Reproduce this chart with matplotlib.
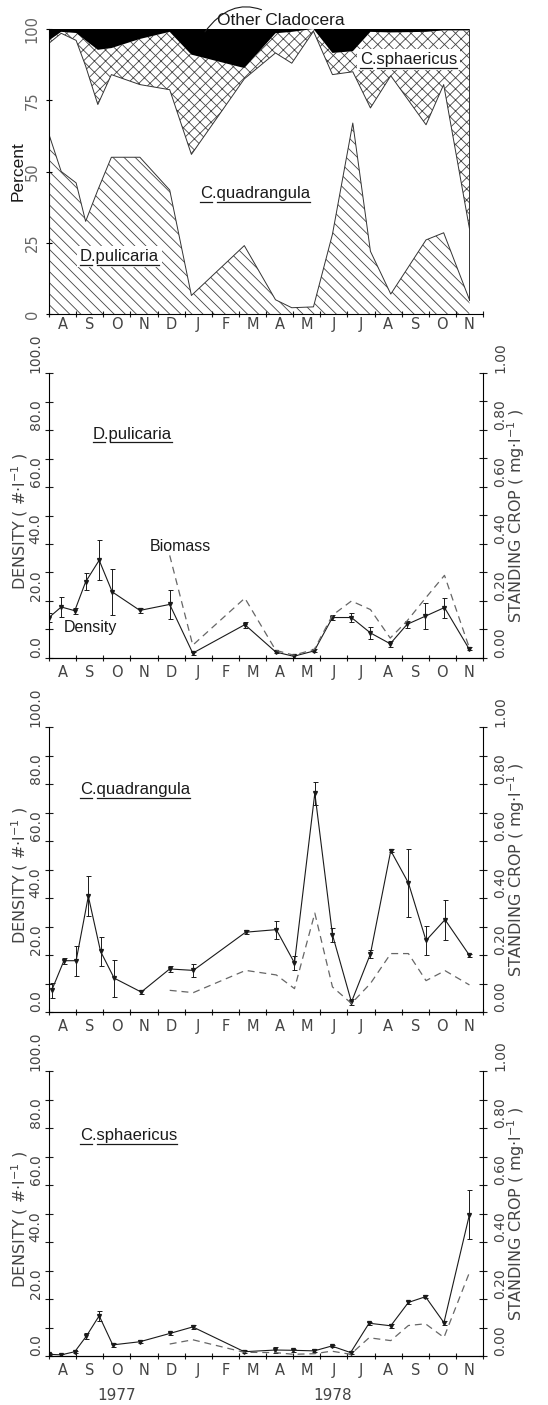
import numpy as np
import matplotlib
matplotlib.use('Agg')
import matplotlib.pyplot as plt
from matplotlib import font_manager
from matplotlib.lines import Line2D

# fonts: plotter-like narrow face for axes, Helvetica-like for the labels
names = {f.name for f in font_manager.fontManager.ttflist}
tick_font = 'Liberation Sans Narrow' if 'Liberation Sans Narrow' in names else 'DejaVu Sans'
label_font = 'Liberation Sans' if 'Liberation Sans' in names else 'DejaVu Sans'
plt.rcParams['font.family'] = [label_font, 'DejaVu Sans']
plt.rcParams['hatch.linewidth'] = 0.6
plt.rcParams['lines.scale_dashes'] = False

# months from Aug 1977 to Nov 1978 (x = months since 1 Aug 1977)
months = ['A', 'S', 'O', 'N', 'D', 'J', 'F', 'M', 'A', 'M', 'J', 'J', 'A', 'S', 'O', 'N']

# percent composition
pct_dates = [0.0, 0.45, 1.0, 1.35, 1.8, 2.3, 3.35, 4.45, 5.25, 7.2, 8.35, 8.95, 9.75,
             10.45, 11.2, 11.85, 12.6, 13.9, 14.55, 15.5]
pct_pulicaria = [63, 50, 46, 32.5, 43.5, 55, 55, 43.5, 6.5, 24, 5, 2.2, 2.5,
                 28, 67, 22, 7, 26, 28.5, 5]
pct_quadrangula = [32, 48.5, 50, 54.5, 30, 29, 25.5, 35.2, 49.5, 58.5, 86.6, 85.8, 96.7,
                   56, 18, 50.3, 76.6, 40.4, 52, 25]
pct_sphaericus = [1, 0.5, 2.6, 9, 19.2, 9.3, 16, 20.3, 35, 3.8, 6.9, 11, 0.8,
                  7.6, 7.2, 26.7, 15.2, 32.6, 19, 69.5]
pct_other = [4, 1, 1.4, 4, 7.3, 6.7, 3.5, 1, 9, 13.7, 1.5, 1, 0,
             8.4, 7.8, 1, 1.2, 1, 0.5, 0.5]

# D. pulicaria
pul_dates = [0.0, 0.45, 0.95, 1.35, 1.85, 2.33, 3.35, 4.45, 5.3, 7.22, 8.36, 9.02, 9.78,
             10.45, 11.15, 11.85, 12.58, 13.2, 13.88, 14.58, 15.48]
pul_density = [14.2, 17.9, 16.6, 26.7, 34.3, 23.2, 16.7, 18.8, 1.7, 11.7, 2.1, 0.6, 2.5,
               14.2, 14.2, 8.8, 5.0, 11.8, 14.7, 17.7, 3.3]
pul_err = [1.5, 3.5, 1.0, 3.0, 7.0, 8.0, 1.0, 5.0, 0.5, 1.0, 0.5, 0.5, 0.5,
           0.8, 1.5, 2.0, 1.0, 1.2, 4.7, 3.5, 0.5]
pul_bio_dates = [4.45, 5.3, 7.22, 8.36, 9.02, 9.78, 10.45, 11.15, 11.85, 12.58, 13.2,
                 13.88, 14.58, 15.48]
pul_biomass = [0.36, 0.045, 0.21, 0.027, 0.01, 0.03, 0.15, 0.20, 0.17, 0.07, 0.13,
               0.21, 0.29, 0.04]

# C. quadrangula
quad_dates = [0.1, 0.55, 1.0, 1.45, 1.9, 2.4, 3.4, 4.45, 5.32, 7.25, 8.38, 9.05, 9.8,
              10.45, 11.15, 11.85, 12.6, 13.25, 13.9, 14.6, 15.5]
quad_density = [7.6, 18.0, 18.0, 40.6, 21.3, 11.9, 7.0, 15.1, 14.6, 28.0, 28.9, 17.2, 76.8,
                27.1, 3.5, 20.4, 56.6, 45.3, 25.1, 32.4, 19.9]
quad_err = [2.6, 1.0, 5.3, 7.0, 5.0, 6.5, 0.8, 1.0, 2.3, 0.8, 3.2, 2.3, 4.0,
            2.5, 1.0, 1.5, 0.5, 12.0, 5.0, 7.0, 0.5]
quad_bio_dates = [4.45, 5.32, 7.25, 8.38, 9.05, 9.8, 10.45, 11.15, 11.85, 12.6, 13.25,
                  13.9, 14.6, 15.5]
quad_biomass = [0.076, 0.068, 0.146, 0.13, 0.082, 0.347, 0.088, 0.03, 0.10, 0.205, 0.205,
                0.11, 0.145, 0.095]

# C. sphaericus
sph_dates = [0.0, 0.45, 0.95, 1.38, 1.85, 2.35, 3.35, 4.45, 5.3, 7.2, 8.35, 9.0, 9.78,
             10.42, 11.12, 11.8, 12.6, 13.25, 13.88, 14.56, 15.5]
sph_density = [0.6, 0.4, 1.5, 7.0, 14.1, 3.9, 5.0, 7.9, 10.2, 1.5, 2.1, 2.0, 1.8,
               3.5, 1.2, 11.5, 10.6, 18.8, 20.8, 11.7, 49.6]
sph_err = [0.3, 0.3, 0.3, 1.0, 1.7, 0.6, 0.5, 0.4, 0.7, 0.5, 1.0, 0.5, 0.5,
           0.5, 0.5, 0.5, 0.7, 0.6, 0.6, 0.7, 8.5]
sph_bio_dates = [4.45, 5.3, 7.2, 8.35, 9.0, 9.78, 10.42, 11.12, 11.8, 12.6, 13.25,
                 13.88, 14.56, 15.5]
sph_biomass = [0.042, 0.057, 0.013, 0.012, 0.006, 0.008, 0.017, 0.006, 0.064, 0.054,
               0.107, 0.113, 0.065, 0.293]

W, H = 548, 1405
fig = plt.figure(figsize=(W / 100, H / 100), dpi=100)
renderer = fig.canvas.get_renderer()
INK = '#1a1a1a'
GREY = '#444444'


def axes_px(left, top, right, bottom):
    return fig.add_axes([left / W, 1 - bottom / H, (right - left) / W, (bottom - top) / H])


def month_axis(ax, pad):
    ax.set_xlim(0, 16)
    ax.set_xticks(np.arange(17))
    ax.set_xticklabels([])
    ax.set_xticks(np.arange(16) + 0.5, months, minor=True, fontsize=10.5,
                  family=tick_font, color=GREY)
    ax.tick_params(axis='x', which='major', direction='inout', length=5, width=0.8, color=INK)
    ax.tick_params(axis='x', which='minor', length=0, pad=pad)


def species_label(x, y, genus, epithet, size=12, bg=False):
    kw = dict(fontsize=size, ha='left', va='baseline', color=INK)
    t = fig.text(x / W, 1 - y / H, genus + '.' + epithet, zorder=5, **kw)
    if bg:
        t.set_bbox(dict(facecolor='white', edgecolor='none', pad=2))
    p1 = fig.text(x / W, 1 - y / H, genus, **kw)
    p2 = fig.text(x / W, 1 - y / H, genus + '.', **kw)
    bb = t.get_window_extent(renderer)
    w1 = p1.get_window_extent(renderer).width
    w2 = p2.get_window_extent(renderer).width
    p1.remove()
    p2.remove()
    yl = (bb.y0 - 0.5) / H
    for a, b in [(bb.x0, bb.x0 + w1), (bb.x0 + w2, bb.x1)]:
        fig.add_artist(Line2D([a / W, b / W], [yl, yl], lw=0.9, color=INK, zorder=6))


# ---- panel 1: percent composition ----
ax1 = axes_px(49, 29, 483, 314)
cum1 = np.array(pct_pulicaria, dtype=float)
cum2 = cum1 + np.array(pct_quadrangula)
cum3 = cum2 + np.array(pct_sphaericus)
cum4 = cum3 + np.array(pct_other)
ax1.fill_between(pct_dates, 0, cum1, facecolor='white', edgecolor=GREY, hatch='\\\\\\', lw=0)
ax1.fill_between(pct_dates, cum2, cum3, facecolor='white', edgecolor=GREY, hatch='xxx', lw=0)
ax1.fill_between(pct_dates, cum3, cum4, facecolor='black', lw=0)
ax1.plot(pct_dates, cum1, color='#333333', lw=0.7)
ax1.plot(pct_dates, cum2, color='#333333', lw=0.7)
ax1.plot([pct_dates[-1]] * 2, [cum1[-1], cum4[-1]], color='#333333', lw=0.7)
ax1.set_ylim(0, 100)
ax1.spines[['top', 'right']].set_visible(False)
ax1.set_yticks([0, 25, 50, 75, 100], ['0', '25', '50', '75', '100'], rotation=90,
               rotation_mode='anchor', ha='center', va='center', fontsize=10.5,
               family=tick_font, color='#666666')
ax1.tick_params(axis='y', direction='inout', length=4, width=0.8, pad=10)
month_axis(ax1, 2.5)
ax1.text(-0.07, 0.5, 'Percent', transform=ax1.transAxes, rotation=90, ha='center',
         va='center', fontsize=12.5, color=INK)
ax1.annotate('Other Cladocera', xy=(5.75, 99), xycoords='data',
             xytext=(217, H - 25), textcoords='figure pixels', fontsize=12.5, color=INK,
             ha='left', va='baseline',
             arrowprops=dict(arrowstyle='-', connectionstyle='arc3,rad=0.5', lw=0.8,
                             color=INK, shrinkA=1, shrinkB=0))
species_label(360, 64, 'C', 'sphaericus', bg=True)
species_label(200, 198, 'C', 'quadrangula')
species_label(80, 261, 'D', 'pulicaria', bg=True)


# ---- panels 2-4: density and standing crop ----
def density_panel(top, dates, dens, err, bdates, bio):
    ax = axes_px(49, top, 483, top + 285)
    ax.errorbar(dates, dens, yerr=err, color=INK, lw=0.8, elinewidth=0.7, capsize=1.8,
                capthick=0.7, marker='v', ms=2.8)
    ax.set_ylim(0, 100)
    ax.spines[['top', 'right']].set_visible(False)
    ax.set_yticks(np.arange(0, 101, 20), [f'{v:.1f}' for v in np.arange(0, 101, 20)],
                  rotation=90, rotation_mode='anchor', ha='left', va='center',
                  fontsize=10, family=tick_font, color=GREY)
    ax.set_yticks(np.arange(10, 100, 20), minor=True)
    ax.tick_params(axis='y', which='both', direction='inout', length=6, width=0.8, pad=6.5,
                   color=INK)
    month_axis(ax, 5)

    ax2 = ax.twinx()
    ax2.plot(bdates, bio, ls=(0, (5, 3.5)), color='#666666', lw=0.9)
    ax2.set_ylim(0, 1)
    ax2.spines[['top', 'left']].set_visible(False)
    ax2.set_yticks(np.arange(0, 1.01, 0.2), [f'{v:.2f}' for v in np.arange(0, 1.01, 0.2)],
                   rotation=90, rotation_mode='anchor', ha='left', va='center',
                   fontsize=10, family=tick_font, color=GREY)
    ax2.set_yticks(np.arange(0.1, 1.0, 0.2), minor=True)
    ax2.tick_params(axis='y', which='both', direction='inout', length=6, width=0.8, pad=9.5,
                    color=INK)

    ax.text(-0.067, 0.48, r'DENSITY ( #$\cdot$l$^{-1}$ )', transform=ax.transAxes,
            rotation=90, ha='center', va='center', fontsize=11.5, family=tick_font,
            color=GREY)
    ax.text(1.077, 0.5, r'STANDING CROP ( mg$\cdot$l$^{-1}$ )', transform=ax.transAxes,
            rotation=90, ha='center', va='center', fontsize=11.5, family=tick_font,
            color=GREY)
    return ax


ax_p = density_panel(373, pul_dates, pul_density, pul_err, pul_bio_dates, pul_biomass)
species_label(93, 439, 'D', 'pulicaria')
fig.text(150 / W, 1 - 551 / H, 'Biomass', fontsize=11.5, color=INK, ha='left', va='baseline')
fig.text(64 / W, 1 - 632 / H, 'Density', fontsize=11.5, color=INK, ha='left', va='baseline')

ax_q = density_panel(727, quad_dates, quad_density, quad_err, quad_bio_dates, quad_biomass)
species_label(80, 794, 'C', 'quadrangula')

ax_s = density_panel(1071, sph_dates, sph_density, sph_err, sph_bio_dates, sph_biomass)
species_label(80, 1140, 'C', 'sphaericus')

fig.text(117 / W, 1 - 1396 / H, '1977', fontsize=11, family=tick_font, color=GREY,
         ha='center', va='center')
fig.text(333 / W, 1 - 1396 / H, '1978', fontsize=11, family=tick_font, color=GREY,
         ha='center', va='center')

fig.savefig('out.png', dpi=100)
